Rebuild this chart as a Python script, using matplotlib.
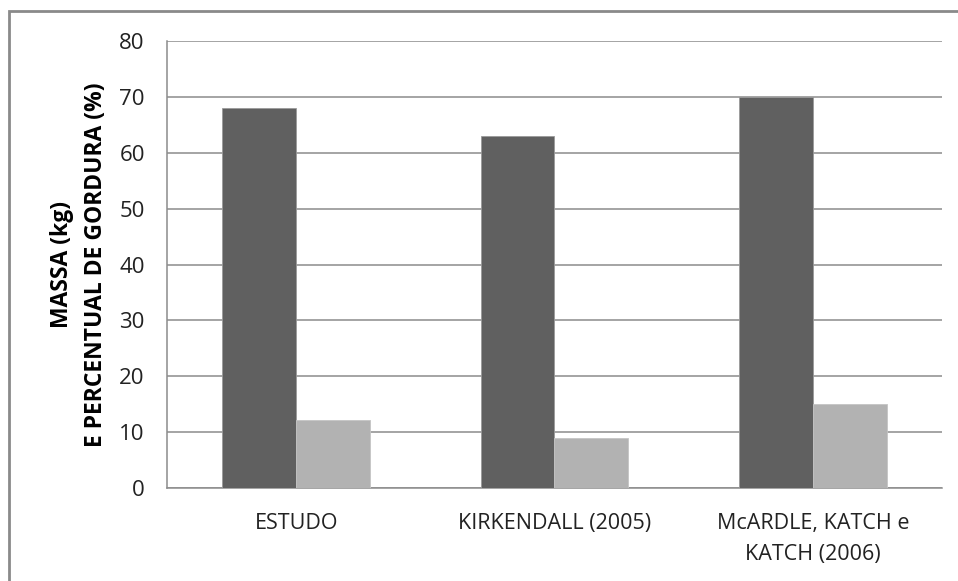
import matplotlib
matplotlib.use("Agg")
import matplotlib.pyplot as plt
from matplotlib.patches import Rectangle
import numpy as np

categorias = ["ESTUDO", "KIRKENDALL (2005)", "McARDLE, KATCH e\nKATCH (2006)"]
massa = [68, 63, 70]
gordura = [12.2, 9, 15]
yticks = [0, 10, 20, 30, 40, 50, 60, 70, 80]

plt.rcParams["font.family"] = ["Open Sans", "DejaVu Sans"]

fig = plt.figure(figsize=(9.58, 5.81), dpi=100)
ax = fig.add_axes([0.1743, 0.160, 0.809, 0.7694])

x = np.arange(len(categorias))
w = 1 / 3.5
ax.bar(x - w / 2, massa, width=w, color="#606060", edgecolor="#9a9a9a", linewidth=0.6, zorder=3)
ax.bar(x + w / 2, gordura, width=w, color="#b2b2b2", edgecolor="#c4c4c4", linewidth=0.6, zorder=3)

ax.set_xlim(-0.5, len(categorias) - 0.5)
ax.set_ylim(0, 80)
ax.set_yticks(yticks)
ax.yaxis.grid(True, color="#8c8c8c", linewidth=1.1, zorder=0)
ax.set_axisbelow(True)
ax.tick_params(axis="y", length=0, pad=16, labelsize=16, labelcolor="#222222")
ax.tick_params(axis="x", length=0, pad=18, labelsize=15.5, labelcolor="#222222")
ax.set_xticks(x)
ax.set_xticklabels(categorias, linespacing=1.6)

for s in ["top", "right"]:
    ax.spines[s].set_visible(False)
for s in ["left", "bottom"]:
    ax.spines[s].set_color("#8c8c8c")
    ax.spines[s].set_linewidth(1.1)

ax.set_ylabel("MASSA (kg)\nE PERCENTUAL DE GORDURA (%)", fontsize=16.5, fontweight="bold",
              linespacing=1.55)
ax.yaxis.set_label_coords(-0.076, 0.5)

# moldura externa do gráfico
fig.patches.append(Rectangle((9 / 958, -0.05), 1.2, 1 - 11 / 581 + 0.05,
                             transform=fig.transFigure, fill=False,
                             edgecolor="#8a8a8a", linewidth=2))

fig.savefig("out.png", dpi=100)
